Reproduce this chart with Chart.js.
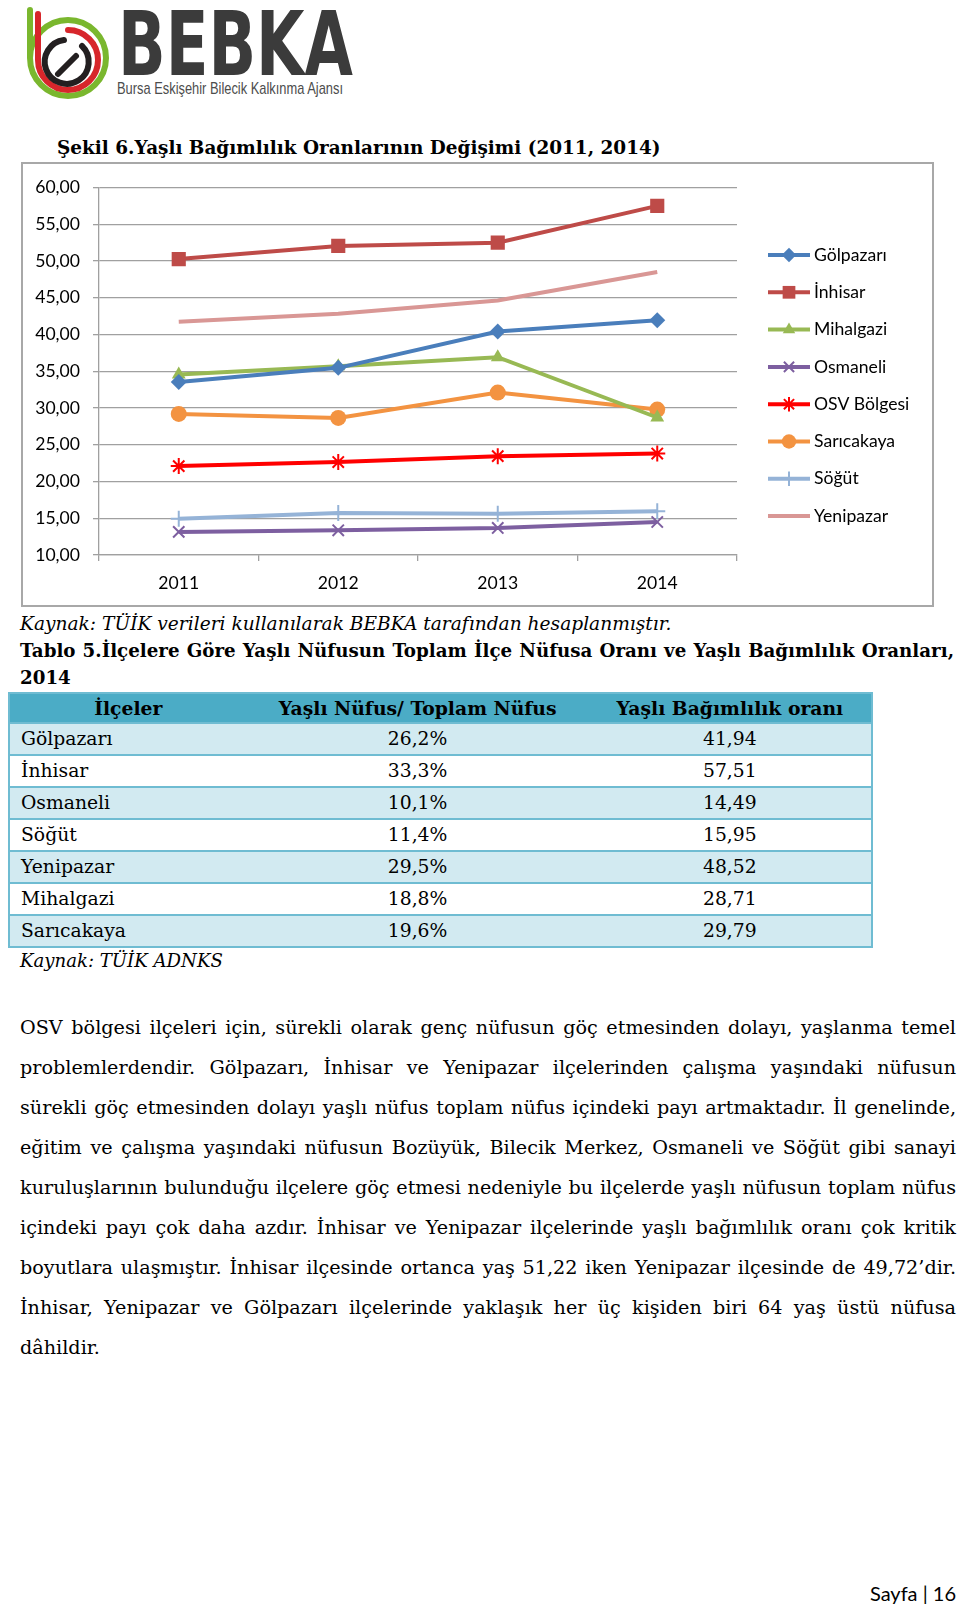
<!DOCTYPE html>
<html>
<head>
<meta charset="utf-8">
<script src="https://cdn.jsdelivr.net/npm/chart.js@4.4.1/dist/chart.umd.min.js"></script>
<style>
html,body{margin:0;padding:0;background:#fff;}
body{width:960px;height:1606px;position:relative;overflow:hidden;font-family:"DejaVu Serif",serif;color:#000;}
.abs{position:absolute;white-space:nowrap;}
#title{left:57px;top:136px;font-weight:bold;font-size:19px;line-height:24px;}
#box{position:absolute;left:21px;top:162px;width:909px;height:441px;border:2px solid #a8a8a8;}
#src1{left:20px;top:612px;font-style:italic;font-size:19px;line-height:24px;}
.tt{position:absolute;left:20px;width:934px;font-weight:bold;font-size:19px;line-height:26px;white-space:nowrap;}
#tt1{top:638px;text-align:justify;text-align-last:justify;}
#tt2{top:665px;}
#tbl{position:absolute;left:8px;top:692px;width:865px;border-collapse:collapse;font-size:19px;}
#tbl th{background:#4bacc6;height:28px;padding:0;font-weight:bold;text-align:center;line-height:26px;}
#tbl td{height:30px;padding:0;line-height:30px;border-top:2px solid #6fbcd2;}
#tbl tr:nth-child(odd) td{background:#d2eaf1;}
#tbl{border:2px solid #6fbcd2;}
#tbl td.c{text-align:center;}
#tbl td.l{padding-left:11px;}
#src2{left:20px;top:949px;font-style:italic;font-size:19px;line-height:24px;}
#para{position:absolute;left:20px;top:1008px;width:936px;font-size:19px;}
#para div{height:40px;line-height:40px;white-space:nowrap;text-align:justify;text-align-last:justify;}
#para div.last{text-align-last:left;}
#foot{right:4px;top:1580px;font-family:Lato,sans-serif;font-size:20px;line-height:26px;}
</style>
</head>
<body>

<svg class="abs" width="360" height="100" style="left:0;top:0">
  <g fill="none" stroke-width="6" stroke-linecap="round">
    <path d="M30 10 V58 A38 38 0 1 0 106 58 A38 38 0 1 0 30 58" stroke="#7ab72e"/>
    <path d="M38 14 V60 A30 30 0 1 0 68 30" stroke="#d7262b"/>
    <path d="M82 46 A22 22 0 1 1 64 40" stroke="#231f20"/>
    <path d="M58 74 L76 56" stroke="#231f20"/>
  </g>
  <text x="118" y="75" font-family="DejaVu Sans" font-weight="bold" font-size="89" fill="#3b3b3b" textLength="235" lengthAdjust="spacingAndGlyphs">BEBKA</text>
  <text x="117" y="94" font-family="Liberation Sans" font-size="17" fill="#4d4d4d" textLength="226" lengthAdjust="spacingAndGlyphs">Bursa Eskişehir Bilecik Kalkınma  Ajansı</text>
</svg>

<div id="title" class="abs">Şekil 6.Yaşlı Bağımlılık Oranlarının Değişimi (2011, 2014)</div>
<div id="box"><canvas id="chart" width="909" height="441"></canvas></div>
<div id="src1" class="abs">Kaynak: TÜİK verileri kullanılarak BEBKA tarafından hesaplanmıştır.</div>
<div id="tt1" class="tt">Tablo 5.İlçelere Göre Yaşlı Nüfusun Toplam İlçe Nüfusa Oranı ve Yaşlı Bağımlılık Oranları,</div>
<div id="tt2" class="tt">2014</div>
<table id="tbl">
  <colgroup><col style="width:238px"><col style="width:343px"><col style="width:284px"></colgroup>
  <thead><tr><th>İlçeler</th><th id="hd2">Yaşlı Nüfus/ Toplam Nüfus</th><th>Yaşlı Bağımlılık oranı</th></tr></thead>
  <tbody id="tbody"></tbody>
</table>
<div id="src2" class="abs">Kaynak: TÜİK ADNKS</div>
<div id="para">
  <div>OSV bölgesi ilçeleri için, sürekli olarak genç nüfusun göç etmesinden dolayı, yaşlanma temel</div>
  <div>problemlerdendir. Gölpazarı, İnhisar ve Yenipazar ilçelerinden çalışma yaşındaki nüfusun</div>
  <div>sürekli göç etmesinden dolayı yaşlı nüfus toplam nüfus içindeki payı artmaktadır. İl genelinde,</div>
  <div>eğitim ve çalışma yaşındaki nüfusun Bozüyük, Bilecik Merkez, Osmaneli ve Söğüt gibi sanayi</div>
  <div>kuruluşlarının bulunduğu ilçelere göç etmesi nedeniyle bu ilçelerde yaşlı nüfusun toplam nüfus</div>
  <div>içindeki payı çok daha azdır. İnhisar ve Yenipazar ilçelerinde yaşlı bağımlılık oranı çok kritik</div>
  <div>boyutlara ulaşmıştır. İnhisar ilçesinde ortanca yaş 51,22 iken Yenipazar ilçesinde de 49,72’dir.</div>
  <div>İnhisar, Yenipazar ve Gölpazarı ilçelerinde yaklaşık her üç kişiden biri 64 yaş üstü nüfusa</div>
  <div class="last">dâhildir.</div>
</div>
<div id="foot" class="abs">Sayfa | 16</div>

<script>
// chart data
var years = ['2011', '2012', '2013', '2014'];
var seriesNames = ['Gölpazarı', 'İnhisar', 'Mihalgazi', 'Osmaneli', 'OSV Bölgesi', 'Sarıcakaya', 'Söğüt', 'Yenipazar'];
var golpazari  = [33.54, 35.47, 40.40, 41.94];
var inhisar    = [50.27, 52.06, 52.50, 57.51];
var mihalgazi  = [34.57, 35.70, 36.91, 28.71];
var osmaneli   = [13.14, 13.36, 13.68, 14.49];
var osv        = [22.10, 22.65, 23.45, 23.81];
var saricakaya = [29.20, 28.65, 32.10, 29.79];
var sogut      = [14.93, 15.70, 15.60, 15.95];
var yenipazar  = [41.75, 42.83, 44.62, 48.52];
var yMin = 10, yMax = 60, yStep = 5;

// table data
var tblDistricts = ['Gölpazarı', 'İnhisar', 'Osmaneli', 'Söğüt', 'Yenipazar', 'Mihalgazi', 'Sarıcakaya'];
var tblShare = ['26,2%', '33,3%', '10,1%', '11,4%', '29,5%', '18,8%', '19,6%'];
var tblRatio = ['41,94', '57,51', '14,49', '15,95', '48,52', '28,71', '29,79'];

var tbody = document.getElementById('tbody');
tblDistricts.forEach(function(d, i){
	var tr = document.createElement('tr');
	tr.innerHTML = '<td class="l">' + d + '</td><td class="c">' + tblShare[i] + '</td><td class="c">' + tblRatio[i] + '</td>';
	tbody.appendChild(tr);
});

// scale text so it takes the same width as in the scanned page
function naturalWidth(el){
	var s = document.createElement('span');
	var cs = getComputedStyle(el);
	s.style.font = cs.font;
	s.style.whiteSpace = 'nowrap';
	s.style.position = 'absolute';
	s.textContent = el.textContent.trim();
	document.body.appendChild(s);
	var w = s.getBoundingClientRect().width;
	s.remove();
	return w;
}
function fit(el, target, applyTo){
	var size = parseFloat(getComputedStyle(el).fontSize);
	var ns = size * target / naturalWidth(el);
	(applyTo || el).style.fontSize = ns + 'px';
}
fit(document.getElementById('title'), 604);
fit(document.getElementById('src1'), 652);
fit(document.getElementById('tt1'), 925);
document.getElementById('tt2').style.fontSize = document.getElementById('tt1').style.fontSize;
fit(document.getElementById('src2'), 203);
fit(document.getElementById('hd2'), 278, document.getElementById('tbl'));

// paragraph: widest line must still fit the text column
var para = document.getElementById('para');
var widest = null, wmax = 0;
Array.prototype.forEach.call(para.querySelectorAll('div:not(.last)'), function(d){
	var w = naturalWidth(d);
	if (w > wmax) { wmax = w; widest = d; }
});
fit(widest, 930, para);

var styles = [
	{color: '#4a7ebb', point: 'rectRot', r: 8},
	{color: '#be4b48', point: 'rect', r: 10},
	{color: '#98b954', point: 'triangle', r: 8},
	{color: '#7d5fa0', point: 'crossRot', r: 8},
	{color: '#ff0000', point: 'star', r: 8},
	{color: '#f39341', point: 'circle', r: 8},
	{color: '#95b3d7', point: 'cross', r: 8},
	{color: '#d99795', point: false, r: 0}
];
var values = [golpazari, inhisar, mihalgazi, osmaneli, osv, saricakaya, sogut, yenipazar];

var datasets = values.map(function(v, i){
	var s = styles[i];
	var stroked = (s.point === 'crossRot' || s.point === 'star' || s.point === 'cross');
	return {
		label: seriesNames[i],
		data: v,
		borderColor: s.color,
		backgroundColor: s.color,
		borderWidth: 4,
		pointStyle: s.point,
		pointRadius: s.r,
		pointBackgroundColor: s.color,
		pointBorderColor: s.color,
		pointBorderWidth: stroked ? 2 : 0,
		tension: 0
	};
});

var sideLegend = {
	id: 'sideLegend',
	afterDraw: function(chart){
		var ctx = chart.ctx;
		chart.data.datasets.forEach(function(ds, i){
			var y = 91 + i * 37.3;
			ctx.save();
			ctx.strokeStyle = ds.borderColor;
			ctx.lineWidth = 4;
			ctx.beginPath();
			ctx.moveTo(745, y);
			ctx.lineTo(787, y);
			ctx.stroke();
			if (ds.pointStyle) {
				ctx.fillStyle = ds.pointBackgroundColor;
				ctx.strokeStyle = ds.pointBorderColor;
				ctx.lineWidth = ds.pointBorderWidth;
				Chart.helpers.drawPoint(ctx, {pointStyle: ds.pointStyle, radius: ds.pointRadius * 0.9, rotation: 0, borderWidth: ds.pointBorderWidth}, 766, y);
			}
			ctx.fillStyle = '#000';
			ctx.font = '17.6px Lato';
			ctx.textBaseline = 'middle';
			ctx.textAlign = 'left';
			ctx.fillText(ds.label, 791, y);
			ctx.restore();
		});
	}
};

var ctx = document.getElementById('chart').getContext('2d');
var chart = new Chart(ctx, {
	type: 'line',
	data: {labels: years, datasets: datasets},
	options: {
		responsive: false,
		animation: false,
		devicePixelRatio: 1,
		layout: {padding: {top: 20, right: 195, bottom: 0, left: 0}},
		plugins: {legend: {display: false}, tooltip: {enabled: false}},
		scales: {
			x: {
				offset: true,
				grid: {offset: true, drawOnChartArea: false, drawTicks: true, tickLength: 6, color: '#a0a0a0', lineWidth: 1.3},
				border: {display: true, color: '#a0a0a0', width: 1.3},
				ticks: {color: '#000', font: {family: 'Lato', size: 17.6}, padding: 12},
				afterFit: function(s){ s.height = 50; }
			},
			y: {
				min: yMin, max: yMax,
				ticks: {stepSize: yStep, color: '#000', font: {family: 'Lato', size: 17.6}, padding: 13,
					callback: function(v){ return v.toFixed(2).replace('.', ','); }},
				grid: {color: '#a0a0a0', lineWidth: 1.3, tickLength: 6},
				border: {display: true, color: '#a0a0a0', width: 1.3},
				afterFit: function(s){ s.width = 76; }
			}
		}
	},
	plugins: [sideLegend]
});
</script>
</body>
</html>
